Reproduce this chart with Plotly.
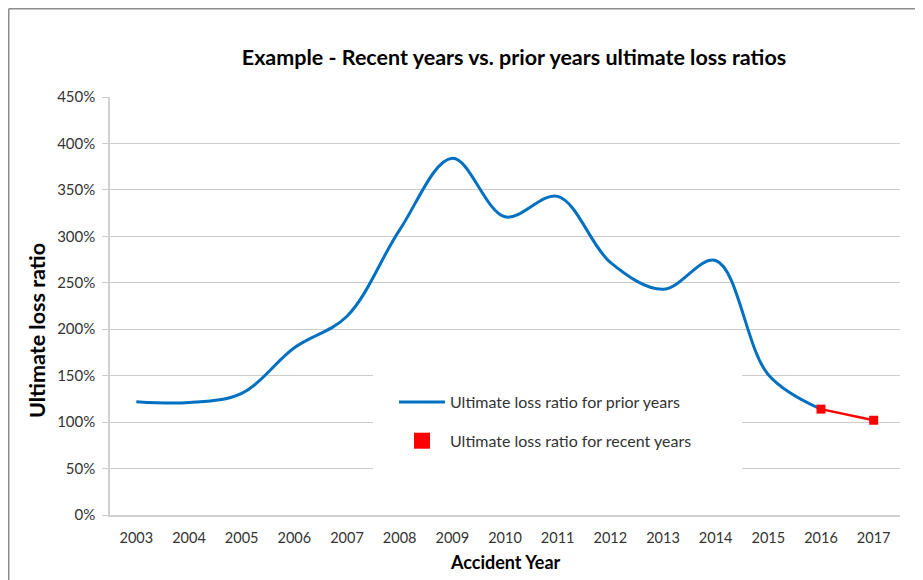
import plotly.graph_objects as go

years = [2003, 2004, 2005, 2006, 2007, 2008, 2009, 2010, 2011, 2012, 2013, 2014, 2015, 2016, 2017]
prior_years = years[:14]
prior_values = [1.22, 1.21, 1.31, 1.80, 2.14, 3.07, 3.84, 3.21, 3.43, 2.72, 2.43, 2.74, 1.51, 1.14]
recent_years = years[13:]
recent_values = [1.14, 1.02]
y_ticks = [0, 0.5, 1.0, 1.5, 2.0, 2.5, 3.0, 3.5, 4.0, 4.5]

FONT = "Lato"
OFF = 8  # page body margin
W, H = 923 - OFF, 580 - OFF
# plot area in reference (window) pixels
X0, X1, Y0, Y1 = 110, 900, 97, 515
L, R, T, B = X0 - OFF, W - (X1 - OFF), Y0 - OFF, H - (Y1 - OFF)
PW, PH = X1 - X0, Y1 - Y0


def px(x):
    return (x - X0) / PW


def py(y):
    return (Y1 - y) / PH


fig = go.Figure()
fig.add_trace(go.Scatter(
    x=prior_years, y=prior_values, mode="lines",
    line=dict(color="#0070C0", width=3, shape="spline", smoothing=1.0),
    name="Ultimate loss ratio for prior years", legendgroup="a", showlegend=True,
))
fig.add_trace(go.Scatter(
    x=recent_years, y=recent_values, mode="lines+markers",
    line=dict(color="#FF0000", width=2.5, shape="spline"),
    marker=dict(symbol="square", size=9, color="#FF0000"),
    name="Ultimate loss ratio for recent years", showlegend=False,
))
fig.add_trace(go.Scatter(
    x=[None], y=[None], mode="markers",
    marker=dict(symbol="square", size=16, color="#FF0000"),
    name="Ultimate loss ratio for recent years", legendgroup="b", showlegend=True,
))

shapes = [
    dict(type="rect", xref="paper", yref="paper", x0=px(373), x1=px(742), y0=py(500), y1=py(360),
         fillcolor="white", line=dict(width=0), layer="above"),
    dict(type="line", xref="paper", yref="paper", x0=px(OFF + 0.75), x1=px(923), y0=py(OFF + 0.75), y1=py(OFF + 0.75),
         line=dict(color="#8c8c8c", width=1.5)),
    dict(type="line", xref="paper", yref="paper", x0=px(OFF + 0.75), x1=px(OFF + 0.75), y0=py(OFF + 0.75), y1=py(580),
         line=dict(color="#8c8c8c", width=1.5)),
]

fig.update_layout(
    width=W, height=H,
    margin=dict(l=L, r=R, t=T, b=B),
    paper_bgcolor="white", plot_bgcolor="white",
    font=dict(family=FONT, size=14.5, color="#333333"),
    title=dict(text="<b>Example - Recent years vs. prior years ultimate loss ratios</b>",
               x=(514 - OFF) / W, xanchor="center", y=1 - (57 - OFF) / H, yanchor="middle",
               font=dict(family=FONT, size=21.5, color="#000000")),
    xaxis=dict(range=[2002.5, 2017.5], tickmode="array", tickvals=years,
               ticktext=[str(y) for y in years], showgrid=False, showline=True,
               linecolor="#d0d0d0", linewidth=1.5, ticks="", zeroline=False,
               ticklabelstandoff=9,
               tickfont=dict(family=FONT, size=14.5, color="#333333")),
    yaxis=dict(range=[0, 4.5], tickmode="array", tickvals=y_ticks, tickformat=".0%",
               showgrid=True, gridcolor="#cccccc", gridwidth=1, showline=True,
               linecolor="#d0d0d0", linewidth=1.5, ticks="outside", ticklen=6,
               tickcolor="#cccccc", zeroline=False, ticklabelstandoff=4,
               tickfont=dict(family=FONT, size=15, color="#333333")),
    legend=dict(x=px(394), y=py(385), xanchor="left", yanchor="top",
                bgcolor="rgba(0,0,0,0)", traceorder="grouped", tracegroupgap=15,
                itemwidth=46, font=dict(family=FONT, size=16, color="#333333")),
    shapes=shapes,
    annotations=[
        dict(text="<b>Ultimate loss ratio</b>", xref="paper", yref="paper",
             x=px(37), y=py(331), textangle=-90, showarrow=False,
             xanchor="center", yanchor="middle",
             font=dict(family=FONT, size=21.5, color="#000000")),
        dict(text="<b>Accident Year</b>", xref="paper", yref="paper",
             x=px(505), y=py(562), showarrow=False, xanchor="center", yanchor="middle",
             font=dict(family=FONT, size=18, color="#000000")),
    ],
)

fig.write_html("out.html")
